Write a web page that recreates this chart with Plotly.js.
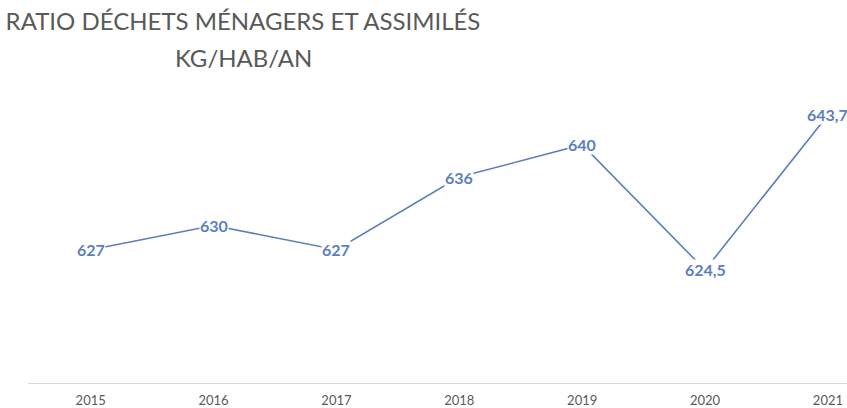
<!DOCTYPE html>
<html>
<head>
<meta charset="utf-8">
<script src="https://cdn.plot.ly/plotly-3.0.1.min.js"></script>
<style>html,body{margin:0;padding:0;background:#fff;}#chart{width:847px;height:408px;}</style>
</head>
<body>
<div id="chart"></div>
<script>
const years = [2015, 2016, 2017, 2018, 2019, 2020, 2021];
const ratio = [627, 630, 627, 636, 640, 624.5, 643.7];
const valueLabels = ["627", "630", "627", "636", "640", "624,5", "643,7"];
const titleLine1 = "RATIO DÉCHETS MÉNAGERS ET ASSIMILÉS";
const titleLine2 = "KG/HAB/AN";

const lineColor = "#5b7fbd";
const fontFam = "Lato, 'Noto Sans', sans-serif";
const trace = {
  x: years, y: ratio, type: "scatter", mode: "lines",
  line: {color: lineColor, width: 1.6},
  hoverinfo: "x+y"
};

const annotations = years.map((yr, i) => ({
  x: yr, y: ratio[i], xref: "x", yref: "y",
  text: valueLabels[i], showarrow: false,
  xanchor: "center", yanchor: "middle",
  bgcolor: "#ffffff", borderpad: 0,
  font: {family: fontFam, size: 16, color: lineColor, weight: 700}
}));
annotations.push({
  text: titleLine2, showarrow: false, xref: "paper", yref: "paper",
  x: (243 - 28) / 819, y: (383 - 58) / 319, xanchor: "center", yanchor: "middle",
  font: {family: fontFam, size: 24, color: "#595959"}
});

const layout = {
  width: 847, height: 408,
  margin: {l: 28, r: 0, t: 64, b: 25},
  paper_bgcolor: "#ffffff", plot_bgcolor: "#ffffff",
  showlegend: false,
  title: {
    text: titleLine1, xref: "container", yref: "container",
    x: 243/847, xanchor: "center", y: 1 - 22/408, yanchor: "middle",
    font: {family: fontFam, size: 24, color: "#595959"}
  },
  xaxis: {
    range: [2014.49, 2021.155], tickvals: years, ticktext: years.map(String),
    showgrid: false, zeroline: false, showline: true, linecolor: "#d9d9d9", linewidth: 1,
    ticks: "", ticklabelstandoff: 5,
    tickfont: {family: fontFam, size: 13, color: "#595959"}
  },
  yaxis: {
    range: [610.5, 650], visible: false, showgrid: false, zeroline: false
  },
  annotations: annotations
};

Plotly.newPlot("chart", [trace], layout, {displayModeBar: false, staticPlot: true});
</script>
</body>
</html>
